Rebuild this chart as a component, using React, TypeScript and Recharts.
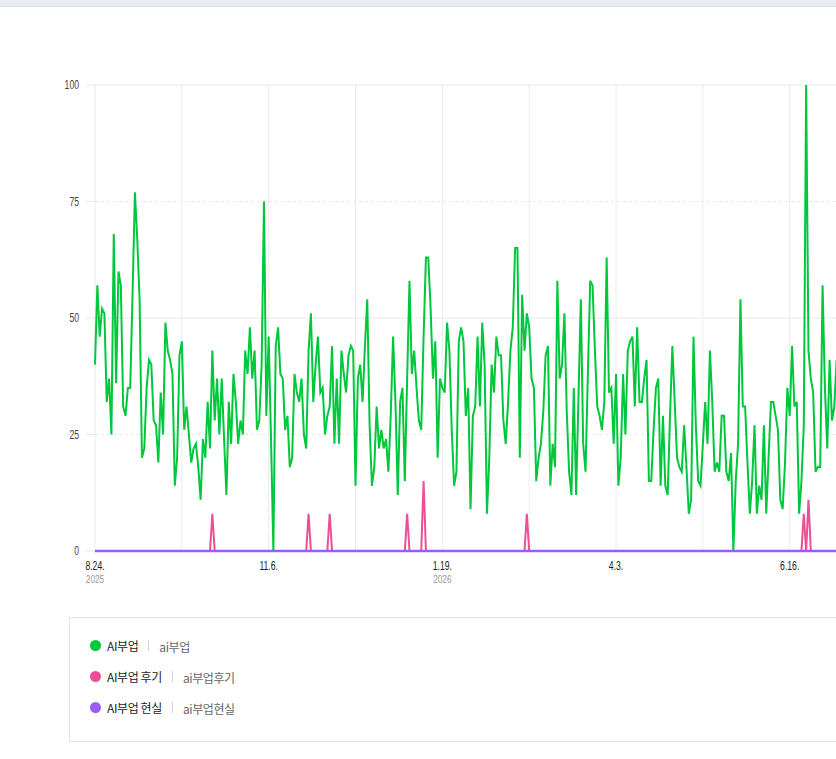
import { CartesianGrid, Line, LineChart, ReferenceLine, XAxis, YAxis } from "recharts";

// daily search ratio, 2025-08-24 onward (day index = days since 8.24)
const aiSideJob = [
  40, 57, 46, 52, 51, 32, 37, 25, 68, 36, 60, 57, 31, 29, 35, 35, 55, 77, 67, 54,
  20, 22, 35, 41, 40, 28, 27, 19, 34, 25, 49, 43, 41, 38, 14, 20, 42, 45, 26, 31,
  25, 19, 22, 23, 18, 11, 24, 20, 32, 22, 43, 28, 37, 25, 37, 24, 12, 32, 23, 38,
  32, 23, 28, 25, 43, 38, 48, 37, 43, 26, 28, 40, 75, 29, 46, 24, 0, 44, 48, 38,
  37, 26, 29, 18, 20, 38, 34, 32, 37, 25, 22, 43, 51, 32, 40, 46, 34, 35, 25, 29,
  31, 44, 23, 37, 23, 43, 38, 34, 42, 44, 43, 14, 37, 40, 32, 44, 54, 27, 14, 18,
  31, 22, 26, 22, 24, 17, 29, 46, 32, 12, 32, 35, 15, 37, 58, 38, 43, 35, 28, 26,
  46, 63, 63, 52, 37, 45, 20, 37, 35, 34, 49, 43, 26, 14, 17, 45, 48, 45, 29, 35,
  9, 29, 31, 46, 31, 49, 40, 8, 20, 40, 34, 46, 42, 42, 28, 23, 32, 43, 48, 65,
  65, 20, 55, 43, 51, 48, 37, 35, 15, 20, 23, 30, 42, 44, 14, 23, 18, 58, 37, 40,
  51, 30, 17, 12, 35, 12, 33, 54, 23, 17, 38, 58, 57, 43, 31, 29, 26, 32, 63, 34,
  35, 23, 38, 14, 20, 38, 25, 43, 45, 46, 31, 48, 32, 32, 37, 41, 15, 15, 26, 35,
  37, 14, 29, 14, 12, 29, 44, 32, 20, 18, 17, 27, 18, 8, 11, 46, 27, 15, 14, 23,
  32, 23, 43, 32, 17, 19, 17, 29, 29, 17, 15, 21, 0, 15, 23, 54, 31, 31, 19, 8,
  15, 27, 8, 14, 11, 27, 8, 20, 32, 32, 29, 26, 11, 9, 19, 35, 29, 44, 31, 32,
  8, 15, 27, 100, 43, 37, 34, 17, 18, 18, 57, 35, 22, 41, 28, 31, 41, 36,
];

const aiSideJobReview = [
  0, 0, 0, 0, 0, 0, 0, 0, 0, 0, 0, 0, 0, 0, 0, 0, 0, 0, 0, 0,
  0, 0, 0, 0, 0, 0, 0, 0, 0, 0, 0, 0, 0, 0, 0, 0, 0, 0, 0, 0,
  0, 0, 0, 0, 0, 0, 0, 0, 0, 0, 8, 0, 0, 0, 0, 0, 0, 0, 0, 0,
  0, 0, 0, 0, 0, 0, 0, 0, 0, 0, 0, 0, 0, 0, 0, 0, 0, 0, 0, 0,
  0, 0, 0, 0, 0, 0, 0, 0, 0, 0, 0, 8, 0, 0, 0, 0, 0, 0, 0, 0,
  8, 0, 0, 0, 0, 0, 0, 0, 0, 0, 0, 0, 0, 0, 0, 0, 0, 0, 0, 0,
  0, 0, 0, 0, 0, 0, 0, 0, 0, 0, 0, 0, 0, 8, 0, 0, 0, 0, 0, 0,
  15, 0, 0, 0, 0, 0, 0, 0, 0, 0, 0, 0, 0, 0, 0, 0, 0, 0, 0, 0,
  0, 0, 0, 0, 0, 0, 0, 0, 0, 0, 0, 0, 0, 0, 0, 0, 0, 0, 0, 0,
  0, 0, 0, 0, 8, 0, 0, 0, 0, 0, 0, 0, 0, 0, 0, 0, 0, 0, 0, 0,
  0, 0, 0, 0, 0, 0, 0, 0, 0, 0, 0, 0, 0, 0, 0, 0, 0, 0, 0, 0,
  0, 0, 0, 0, 0, 0, 0, 0, 0, 0, 0, 0, 0, 0, 0, 0, 0, 0, 0, 0,
  0, 0, 0, 0, 0, 0, 0, 0, 0, 0, 0, 0, 0, 0, 0, 0, 0, 0, 0, 0,
  0, 0, 0, 0, 0, 0, 0, 0, 0, 0, 0, 0, 0, 0, 0, 0, 0, 0, 0, 0,
  0, 0, 0, 0, 0, 0, 0, 0, 0, 0, 0, 0, 0, 0, 0, 0, 0, 0, 0, 0,
  0, 0, 8, 0, 11, 0, 0, 0, 0, 0, 0, 0, 0, 0, 0, 0, 0, 0,
];

const aiSideJobReality = [
  0, 0, 0, 0, 0, 0, 0, 0, 0, 0, 0, 0, 0, 0, 0, 0, 0, 0, 0, 0,
  0, 0, 0, 0, 0, 0, 0, 0, 0, 0, 0, 0, 0, 0, 0, 0, 0, 0, 0, 0,
  0, 0, 0, 0, 0, 0, 0, 0, 0, 0, 0, 0, 0, 0, 0, 0, 0, 0, 0, 0,
  0, 0, 0, 0, 0, 0, 0, 0, 0, 0, 0, 0, 0, 0, 0, 0, 0, 0, 0, 0,
  0, 0, 0, 0, 0, 0, 0, 0, 0, 0, 0, 0, 0, 0, 0, 0, 0, 0, 0, 0,
  0, 0, 0, 0, 0, 0, 0, 0, 0, 0, 0, 0, 0, 0, 0, 0, 0, 0, 0, 0,
  0, 0, 0, 0, 0, 0, 0, 0, 0, 0, 0, 0, 0, 0, 0, 0, 0, 0, 0, 0,
  0, 0, 0, 0, 0, 0, 0, 0, 0, 0, 0, 0, 0, 0, 0, 0, 0, 0, 0, 0,
  0, 0, 0, 0, 0, 0, 0, 0, 0, 0, 0, 0, 0, 0, 0, 0, 0, 0, 0, 0,
  0, 0, 0, 0, 0, 0, 0, 0, 0, 0, 0, 0, 0, 0, 0, 0, 0, 0, 0, 0,
  0, 0, 0, 0, 0, 0, 0, 0, 0, 0, 0, 0, 0, 0, 0, 0, 0, 0, 0, 0,
  0, 0, 0, 0, 0, 0, 0, 0, 0, 0, 0, 0, 0, 0, 0, 0, 0, 0, 0, 0,
  0, 0, 0, 0, 0, 0, 0, 0, 0, 0, 0, 0, 0, 0, 0, 0, 0, 0, 0, 0,
  0, 0, 0, 0, 0, 0, 0, 0, 0, 0, 0, 0, 0, 0, 0, 0, 0, 0, 0, 0,
  0, 0, 0, 0, 0, 0, 0, 0, 0, 0, 0, 0, 0, 0, 0, 0, 0, 0, 0, 0,
  0, 0, 0, 0, 0, 0, 0, 0, 0, 0, 0, 0, 0, 0, 0, 0, 0, 0,
];

// gridline every 37 days, label every 74
const xTicks = [0, 37, 74, 111, 148, 185, 222, 259, 296];
const xTickLabels = ["8.24.", "", "11.6.", "", "1.19.", "", "4.3.", "", "6.16."];
const xTickYears = ["2025", "", "", "", "2026", "", "", "", ""];
const yTicks = [0, 25, 50, 75, 100];
const dashedY = [25, 75];

const series = [
  { key: "ai", name: "AI부업", keyword: "ai부업", color: "#00c73c" },
  { key: "review", name: "AI부업 후기", keyword: "ai부업후기", color: "#ec4f97" },
  { key: "reality", name: "AI부업 현실", keyword: "ai부업현실", color: "#9b5cf6" },
];

const rows = aiSideJob.map((v, i) => ({
  day: i,
  ai: v,
  review: aiSideJobReview[i],
  reality: aiSideJobReality[i],
}));

// the axis font in the original is a narrow, thin face; squeeze a normal one
const tickFont = "'Liberation Sans', Arial, sans-serif";
const squeeze = 0.72;

function DateTick({ x, y, payload }: any) {
  const i = xTicks.indexOf(payload.value);
  if (i < 0 || !xTickLabels[i]) return null;
  return (
    <g>
      <text
        transform={`translate(${x},${y + 15}) scale(${squeeze},1)`}
        textAnchor="middle"
        dominantBaseline="central"
        fontSize={12}
        fill="#222"
        fontFamily={tickFont}
      >
        {xTickLabels[i]}
      </text>
      {xTickYears[i] && (
        <text
          transform={`translate(${x},${y + 28}) scale(${squeeze},1)`}
          textAnchor="middle"
          dominantBaseline="central"
          fontSize={11.5}
          fill="#999"
          fontFamily={tickFont}
        >
          {xTickYears[i]}
        </text>
      )}
    </g>
  );
}

function ValueTick({ x, y, payload }: any) {
  return (
    <text
      transform={`translate(${x},${y}) scale(${squeeze},1)`}
      textAnchor="end"
      dominantBaseline="central"
      fontSize={12}
      fill="#444"
      fontFamily={tickFont}
    >
      {payload.value}
    </text>
  );
}

function Legend() {
  return (
    <div
      style={{
        position: "absolute",
        left: 69,
        top: 617,
        width: 820,
        height: 125,
        border: "1px solid #e3e3e3",
        boxSizing: "border-box",
        fontFamily: "'Noto Sans CJK KR', 'Noto Sans', sans-serif",
      }}
    >
      {series.map((s, i) => (
        <div
          key={s.key}
          style={{ position: "absolute", left: 20, top: 17 + i * 31, height: 20, display: "flex", alignItems: "center", whiteSpace: "nowrap" }}
        >
          <span style={{ width: 11, height: 11, borderRadius: "50%", background: s.color, display: "inline-block" }} />
          <span style={{ marginLeft: 6, fontSize: 12, color: "#222", letterSpacing: -0.4 }}>{s.name}</span>
          <span style={{ margin: "0 10px", width: 1, height: 11, background: "#d5d5d5", display: "inline-block" }} />
          <span style={{ fontSize: 12, color: "#666", letterSpacing: -0.4, marginTop: 3 }}>{s.keyword}</span>
        </div>
      ))}
    </div>
  );
}

export default function App() {
  return (
    <div style={{ position: "absolute", left: 0, top: 0, width: 836, height: 759, overflow: "hidden", background: "#fff" }}>
      <div style={{ position: "absolute", left: 0, top: 0, width: 836, height: 6, background: "#e9ecf5", borderBottom: "1px solid #dbdfe9" }} />
      <div style={{ position: "absolute", left: 0, top: 0 }}>
        <LineChart width={840} height={600} data={rows} margin={{ top: 85, right: 1, bottom: 9, left: 0 }}>
          <CartesianGrid horizontal={false} vertical stroke="#ebebeb" />
          {yTicks.map((v) => (
            <ReferenceLine key={v} y={v} stroke="#e8e8e8" strokeDasharray={dashedY.includes(v) ? "3 3" : undefined} />
          ))}
          <XAxis
            type="number"
            dataKey="day"
            domain={[0, aiSideJob.length - 1]}
            ticks={xTicks}
            tick={<DateTick />}
            tickSize={0}
            tickMargin={0}
            tickLine={false}
            axisLine={false}
            height={40}
          />
          <YAxis
            domain={[0, 100]}
            ticks={yTicks}
            width={95}
            tickSize={9}
            tickMargin={7}
            tickLine={{ stroke: "#e8e8e8" }}
            axisLine={false}
            tick={<ValueTick />}
          />
          {series.map((s) => (
            <Line
              key={s.key}
              type="linear"
              dataKey={s.key}
              name={s.name}
              stroke={s.color}
              strokeWidth={s.key === "reality" ? 2.6 : 2}
              dot={false}
              activeDot={false}
              isAnimationActive={false}
            />
          ))}
        </LineChart>
      </div>
      <Legend />
    </div>
  );
}
